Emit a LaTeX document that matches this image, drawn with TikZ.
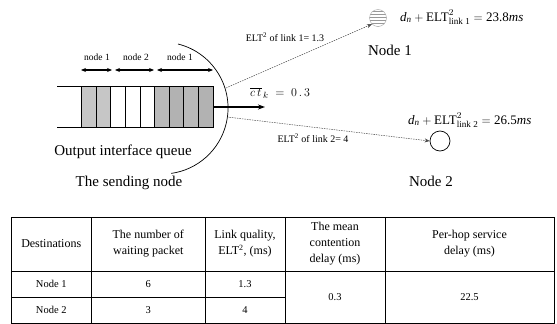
\documentclass[tikz,border=0pt]{standalone}
\usepackage{fontspec}
\usepackage{amsmath}
\setmainfont{Liberation Serif}
\usetikzlibrary{arrows.meta,patterns}
\tikzset{
  packetbox/.style={draw=black, line width=0.6pt},
  span/.style={{Stealth[length=5pt,width=4pt]}-{Stealth[length=5pt,width=4pt]}, line width=1.1pt},
  smalllabel/.style={font=\fontsize{9.5}{10}\selectfont, inner sep=1pt},
  biglabel/.style={font=\fontsize{15}{17}\selectfont, inner sep=1pt},
  eqlabel/.style={font=\fontsize{13}{15}\selectfont, inner sep=1pt},
  linklabel/.style={font=\fontsize{10}{11}\selectfont, inner sep=1pt},
  linkarrow/.style={dashed, dash pattern=on 1.5pt off 1pt, draw=black!70, line width=0.5pt, -{Stealth[length=5pt,width=4pt]}},
  tabtext/.style={font=\fontsize{12}{16}\selectfont, align=center, inner sep=1pt},
  rowtext/.style={font=\fontsize{10.5}{12}\selectfont, align=center, inner sep=1pt},
  tabline/.style={line width=0.6pt}
}
\begin{document}
\begin{tikzpicture}[x=1pt,y=-1pt]
\useasboundingbox (0,0) rectangle (557,324);

% queue
\coordinate (qtl) at (57,86);
\coordinate (qbl) at (57,127);
\coordinate (qtr) at (213,86);
\coordinate (qbr) at (213,127);
\draw[line width=0.6pt] (qtl) -- (qtr);
\draw[line width=0.6pt] (qbl) -- (qbr);
\foreach \i/\c in {0/gray!45,1/gray!45,2/white,3/white,4/white,5/gray!55,6/gray!60,7/gray!55,8/gray!60}{
  \node[packetbox, fill=\c, minimum width=14.63pt, minimum height=41pt, inner sep=0pt, anchor=north west] (p\i) at ({81+14.63*\i},86) {};
}
% span arrows
\coordinate (s1a) at (81,70); \coordinate (s1b) at (112,70);
\coordinate (s2a) at (115,70); \coordinate (s2b) at (154,70);
\coordinate (s3a) at (157,70); \coordinate (s3b) at (213,70);
\draw[span] (s1a) -- (s1b);
\draw[span] (s2a) -- (s2b);
\draw[span] (s3a) -- (s3b);
\node[smalllabel] (n1lab) at (97,57) {node 1};
\node[smalllabel] (n2lab) at (136,57) {node 2};
\node[smalllabel] (n3lab) at (180,57) {node 1};

% sending node arc
\draw[line width=0.7pt] (178,44) arc[start angle=-76, end angle=82, radius=66];

% output arrow
\coordinate (qout) at (213,107);
\coordinate (qend) at (265,107);
\draw[line width=1.3pt, -{Stealth[length=7pt,width=5pt]}] (qout) -- (qend);
\node[font=\fontsize{13}{15}\selectfont, anchor=west, inner sep=0pt] (ct) at (250,93) {$\overline{c\,t}_{\,k}\;=\;0\,.\,3$};

\node[biglabel] (oiq) at (123,152) {Output interface queue};
\node[biglabel] (snd) at (129,183) {The sending node};

% destination nodes
\node[circle, draw=gray!70, pattern=horizontal lines, pattern color=gray!80, minimum size=17pt, inner sep=0pt] (dest1) at (378,18) {};
\node[circle, draw=black, line width=0.7pt, minimum size=20pt, inner sep=0pt] (dest2) at (440,141) {};
\node[biglabel] (dest1lab) at (390,50) {Node 1};
\node[biglabel] (dest2lab) at (431,181) {Node 2};

\node[eqlabel, anchor=west] (eq1) at (399,17) {$\textit{d}_{\textit{n}} + \text{ELT}^{2}_{\text{link 1}} = \text{23.8}\textit{ms}$};
\node[eqlabel, anchor=west] (eq2) at (407,120) {$\textit{d}_{\textit{n}} + \text{ELT}^{2}_{\text{link 2}} = \text{26.5}\textit{ms}$};

% link arrows
\coordinate (l1s) at (226,88);
\coordinate (l2s) at (227,117);
\draw[linkarrow] (l1s) -- (dest1.south west);
\draw[linkarrow] (l2s) -- (dest2.west);
\node[linklabel] (l1lab) at (285,37) {ELT\textsuperscript{2} of link 1= 1.3};
\node[linklabel] (l2lab) at (313,138) {ELT\textsuperscript{2} of link 2= 4};

% table
\draw[tabline] (11,217) rectangle (554,323);
\draw[tabline] (11,271) -- (554,271);
\draw[tabline] (11,297) -- (285,297);
\foreach \x in {91.5,205,285,385}{ \draw[tabline] (\x,217) -- (\x,323); }
\node[tabtext] (h1) at (51.25,244) {Destinations};
\node[tabtext] (h2) at (148.25,244) {The number of\\waiting packet};
\node[tabtext] (h3) at (245,244) {Link quality,\\ELT\textsuperscript{2}, (ms)};
\node[tabtext] (h4) at (335,244) {The mean\\contention\\delay (ms)};
\node[tabtext] (h5) at (469.5,244) {Per-hop service\\delay (ms)};
\node[rowtext] (r1c1) at (51.25,284) {Node 1};
\node[rowtext] (r2c1) at (51.25,310) {Node 2};
\node[rowtext] (r1c2) at (148.25,284) {6};
\node[rowtext] (r2c2) at (148.25,310) {3};
\node[rowtext] (r1c3) at (245,284) {1.3};
\node[rowtext] (r2c3) at (245,310) {4};
\node[rowtext] (c4) at (335,297) {0.3};
\node[rowtext] (c5) at (469.5,297) {22.5};
\end{tikzpicture}
\end{document}
